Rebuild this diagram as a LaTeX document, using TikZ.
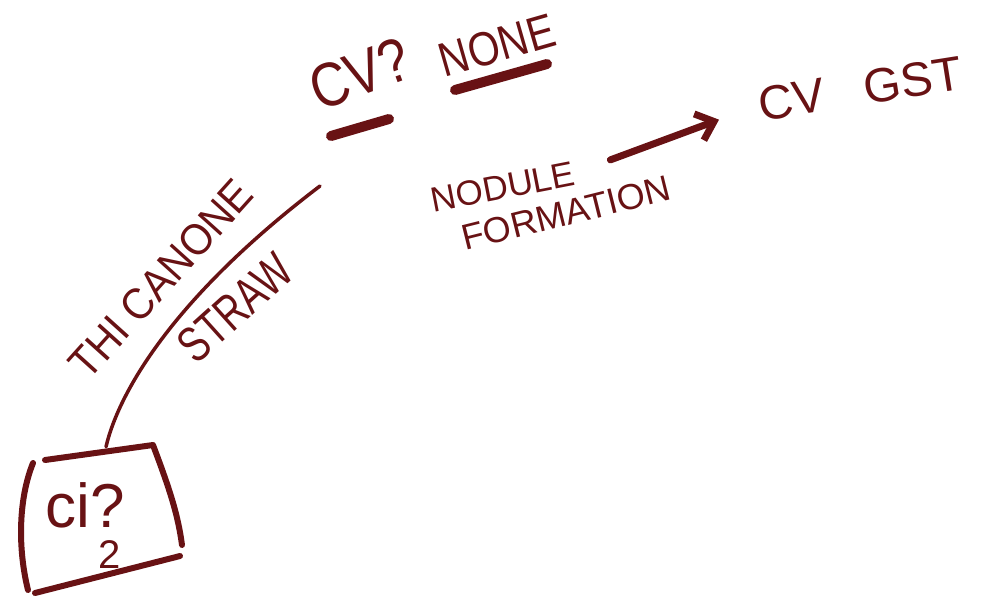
\documentclass[tikz,border=0pt]{standalone}
\usepackage{fontspec}
\setmainfont{Liberation Sans}
\usepackage{tikz}
\usetikzlibrary{arrows.meta}
\definecolor{ink}{RGB}{104,18,20}

\begin{document}
\begin{tikzpicture}[x=1pt, y=-1pt,
	hand/.style={text=ink, inner sep=0pt},
	pen/.style={draw=ink, line width=4pt, line cap=round, line join=round},
	smear/.style={draw=ink, line width=10pt, line cap=round}]
	\useasboundingbox (0,0) rectangle (998,603);

	\node[hand, rotate=20, xscale=0.85, font=\fontsize{62}{62}\selectfont] (cvq) at (360,74) {CV?};
	\node[hand, rotate=16, xscale=0.85, font=\fontsize{48}{48}\selectfont] (none) at (497,45) {NONE};
	\draw[smear] (331,136) -- (389,119);
	\draw[smear] (455,90) -- (547,64);

	\node[hand, rotate=9, font=\fontsize{48}{48}\selectfont] (cvgst) at (860,89) {CV\hspace{40pt}GST};

	\node[hand, rotate=11, font=\fontsize{35}{35}\selectfont] (nodule) at (503,187) {NODULE};
	\node[hand, rotate=14, font=\fontsize{36}{36}\selectfont] (formation) at (566,213) {FORMATION};
	\draw[pen, line width=7pt, shorten <=38pt, shorten >=42pt,
		-{Straight Barb[length=16pt, width=28pt]}] (nodule.east) -- (cvgst.west);

	\node[minimum width=150pt, minimum height=126pt, inner sep=0pt] (box) at (106,510) {};
	\node[hand, font=\fontsize{62}{62}\selectfont] (ci) at (85,505) {ci?};
	\node[hand, font=\fontsize{40}{40}\selectfont] (two) at (110,555) {2};
	\draw[pen, line width=6pt] (45,460) -- (153,445) .. controls (170,490) and (178,515) .. (182,545);
	\draw[pen, line width=6pt] (35,593) -- (180,556);
	\draw[pen, line width=6pt] (33,463) .. controls (18,500) and (18,550) .. (28,590);

	\coordinate (strawend) at (320,186);
	\draw[pen, line width=3.5pt] (box.north) .. controls (118,395) and (170,300) .. (strawend);
	\node[hand, rotate=48, xscale=0.92, font=\fontsize{44}{44}\selectfont] (thi) at (161,279) {THI CANONE};
	\node[hand, rotate=42, xscale=0.75, font=\fontsize{50}{50}\selectfont] (straw) at (235,308) {STRAW};
\end{tikzpicture}
\end{document}
